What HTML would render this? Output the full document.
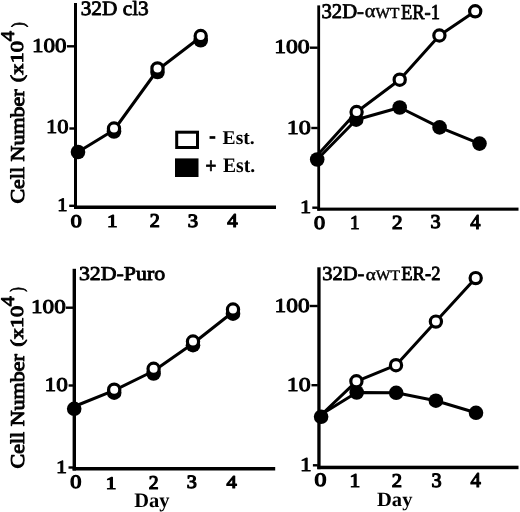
<!DOCTYPE html>
<html><head><meta charset="utf-8"><style>
html,body{margin:0;padding:0;background:#fff;}
svg{display:block;will-change:transform;}
text{font-family:"Liberation Serif", serif;fill:#000;stroke:#000;stroke-linejoin:round;text-rendering:geometricPrecision;}
</style></head><body>
<svg width="520" height="512" viewBox="0 0 520 512">
<rect x="74.00" y="3.00" width="3.00" height="206.00" fill="#000"/>
<rect x="74.00" y="205.50" width="202.00" height="3.50" fill="#000"/>
<rect x="67.00" y="45.10" width="7.50" height="2.40" fill="#000"/>
<rect x="69.40" y="127.30" width="5.10" height="2.40" fill="#000"/>
<rect x="69.20" y="204.60" width="5.30" height="2.40" fill="#000"/>
<polyline points="78,152 114,130 157.5,70 200.7,37" fill="none" stroke="#000" stroke-width="3" stroke-linejoin="round"/>
<circle cx="78" cy="152" r="7.3" fill="#000"/>
<circle cx="114" cy="131.5" r="7.3" fill="#000"/>
<circle cx="157.5" cy="72" r="7.3" fill="#000"/>
<circle cx="200.7" cy="40.3" r="7.3" fill="#000"/>
<circle cx="114" cy="128.5" r="5.6" fill="#fff" stroke="#000" stroke-width="3.2"/>
<circle cx="157.5" cy="68.4" r="5.6" fill="#fff" stroke="#000" stroke-width="3.2"/>
<circle cx="200.7" cy="36" r="5.6" fill="#fff" stroke="#000" stroke-width="3.2"/>
<rect x="317.30" y="5.40" width="2.80" height="205.30" fill="#000"/>
<rect x="317.30" y="207.60" width="201.20" height="3.10" fill="#000"/>
<rect x="309.80" y="46.50" width="8.00" height="2.40" fill="#000"/>
<rect x="311.30" y="126.80" width="6.50" height="2.40" fill="#000"/>
<rect x="312.30" y="206.50" width="5.50" height="2.40" fill="#000"/>
<polyline points="313.5,159.5 356.6,112 399.7,79.7 439.4,35.5 475.2,11.3" fill="none" stroke="#000" stroke-width="3" stroke-linejoin="round"/>
<polyline points="317.2,159.5 356.2,119.7 399.7,107.5 439.6,127.4 479.5,143.6" fill="none" stroke="#000" stroke-width="3" stroke-linejoin="round"/>
<circle cx="317.2" cy="159.5" r="7.3" fill="#000"/>
<circle cx="356.2" cy="119.7" r="7.3" fill="#000"/>
<circle cx="399.7" cy="107.5" r="7.3" fill="#000"/>
<circle cx="439.6" cy="127.4" r="7.3" fill="#000"/>
<circle cx="479.5" cy="143.6" r="7.3" fill="#000"/>
<circle cx="356.6" cy="112" r="5.6" fill="#fff" stroke="#000" stroke-width="3.2"/>
<circle cx="399.7" cy="79.7" r="5.6" fill="#fff" stroke="#000" stroke-width="3.2"/>
<circle cx="439.4" cy="35.5" r="5.6" fill="#fff" stroke="#000" stroke-width="3.2"/>
<circle cx="475.2" cy="11.3" r="5.6" fill="#fff" stroke="#000" stroke-width="3.2"/>
<rect x="72.60" y="268.80" width="3.40" height="201.70" fill="#000"/>
<rect x="72.60" y="467.00" width="202.60" height="3.50" fill="#000"/>
<rect x="65.80" y="306.50" width="7.30" height="2.40" fill="#000"/>
<rect x="68.60" y="384.30" width="4.50" height="2.40" fill="#000"/>
<rect x="68.50" y="466.30" width="4.60" height="2.40" fill="#000"/>
<polyline points="74.2,406.5 114.2,390.3 153.6,371 193,343.5 233,312" fill="none" stroke="#000" stroke-width="3" stroke-linejoin="round"/>
<circle cx="74.2" cy="408.8" r="7.3" fill="#000"/>
<circle cx="114.2" cy="392.7" r="7.3" fill="#000"/>
<circle cx="153.6" cy="373.5" r="7.3" fill="#000"/>
<circle cx="193" cy="345.2" r="7.3" fill="#000"/>
<circle cx="233" cy="313.7" r="7.3" fill="#000"/>
<circle cx="114.2" cy="389.7" r="5.6" fill="#fff" stroke="#000" stroke-width="3.2"/>
<circle cx="153.6" cy="368.8" r="5.6" fill="#fff" stroke="#000" stroke-width="3.2"/>
<circle cx="193" cy="341.5" r="5.6" fill="#fff" stroke="#000" stroke-width="3.2"/>
<circle cx="233" cy="309.5" r="5.6" fill="#fff" stroke="#000" stroke-width="3.2"/>
<rect x="317.30" y="267.30" width="3.30" height="201.90" fill="#000"/>
<rect x="317.30" y="465.70" width="201.20" height="3.50" fill="#000"/>
<rect x="309.80" y="304.80" width="8.00" height="2.40" fill="#000"/>
<rect x="311.50" y="384.00" width="6.30" height="2.40" fill="#000"/>
<rect x="312.90" y="464.10" width="4.90" height="2.40" fill="#000"/>
<polyline points="318.5,417.5 356.4,381.3 396,365.2 435.9,321.6 475.7,278.1" fill="none" stroke="#000" stroke-width="3" stroke-linejoin="round"/>
<polyline points="321.1,414.5 356.7,392.5 396.2,392.8 435.9,400.7 476,412.8" fill="none" stroke="#000" stroke-width="3" stroke-linejoin="round"/>
<circle cx="321.1" cy="416.8" r="7.3" fill="#000"/>
<circle cx="356.7" cy="392.5" r="7.3" fill="#000"/>
<circle cx="396.2" cy="392.8" r="7.3" fill="#000"/>
<circle cx="435.9" cy="400.7" r="7.3" fill="#000"/>
<circle cx="476" cy="412.8" r="7.3" fill="#000"/>
<circle cx="356.4" cy="381.3" r="5.6" fill="#fff" stroke="#000" stroke-width="3.2"/>
<circle cx="396" cy="365.2" r="5.6" fill="#fff" stroke="#000" stroke-width="3.2"/>
<circle cx="435.9" cy="321.6" r="5.6" fill="#fff" stroke="#000" stroke-width="3.2"/>
<circle cx="475.7" cy="278.1" r="5.6" fill="#fff" stroke="#000" stroke-width="3.2"/>
<text id="tl_title" x="80.73" y="14.82" font-size="20.36" textLength="67.98" lengthAdjust="spacingAndGlyphs" style="font-weight:normal;stroke-width:0.85px">32D cl3</text>
<text id="tl_100" x="32.09" y="51.74" font-size="19.85" textLength="34.56" lengthAdjust="spacingAndGlyphs" style="font-weight:normal;stroke-width:0.95px">100</text>
<text id="tl_10" x="45.90" y="133.31" font-size="19.77" textLength="22.54" lengthAdjust="spacingAndGlyphs" style="font-weight:normal;stroke-width:0.95px">10</text>
<text id="tl_1" x="57.33" y="210.90" font-size="19.09" textLength="10.31" lengthAdjust="spacingAndGlyphs" style="font-weight:normal;stroke-width:0.95px">1</text>
<text id="tl_x0" x="70.66" y="226.69" font-size="17.78" textLength="10.97" lengthAdjust="spacingAndGlyphs" style="font-weight:normal;stroke-width:1.2px">0</text>
<text id="tl_x1" x="107.10" y="226.72" font-size="18.14" textLength="10.56" lengthAdjust="spacingAndGlyphs" style="font-weight:normal;stroke-width:1.2px">1</text>
<text id="tl_x2" x="149.78" y="226.72" font-size="19.57" textLength="10.05" lengthAdjust="spacingAndGlyphs" style="font-weight:normal;stroke-width:1.2px">2</text>
<text id="tl_x3" x="187.71" y="226.54" font-size="18.88" textLength="10.33" lengthAdjust="spacingAndGlyphs" style="font-weight:normal;stroke-width:1.2px">3</text>
<text id="tl_x4" x="227.20" y="226.86" font-size="19.54" textLength="10.45" lengthAdjust="spacingAndGlyphs" style="font-weight:normal;stroke-width:1.2px">4</text>
<text id="tr_100" x="274.15" y="52.97" font-size="19.74" textLength="35.60" lengthAdjust="spacingAndGlyphs" style="font-weight:normal;stroke-width:0.95px">100</text>
<text id="tr_10" x="286.68" y="133.61" font-size="19.76" textLength="24.20" lengthAdjust="spacingAndGlyphs" style="font-weight:normal;stroke-width:0.95px">10</text>
<text id="tr_1" x="299.92" y="212.52" font-size="18.72" textLength="11.16" lengthAdjust="spacingAndGlyphs" style="font-weight:normal;stroke-width:0.95px">1</text>
<text id="tr_x0" x="314.09" y="228.92" font-size="18.88" textLength="11.06" lengthAdjust="spacingAndGlyphs" style="font-weight:normal;stroke-width:1.2px">0</text>
<text id="tr_x1" x="349.90" y="229.06" font-size="19.60" textLength="9.59" lengthAdjust="spacingAndGlyphs" style="font-weight:normal;stroke-width:1.2px">1</text>
<text id="tr_x2" x="392.09" y="228.67" font-size="20.02" textLength="10.55" lengthAdjust="spacingAndGlyphs" style="font-weight:normal;stroke-width:1.2px">2</text>
<text id="tr_x3" x="430.64" y="228.10" font-size="19.63" textLength="10.08" lengthAdjust="spacingAndGlyphs" style="font-weight:normal;stroke-width:1.2px">3</text>
<text id="tr_x4" x="470.16" y="229.20" font-size="21.24" textLength="10.21" lengthAdjust="spacingAndGlyphs" style="font-weight:normal;stroke-width:1.2px">4</text>
<text id="bl_title" x="78.92" y="280.26" font-size="19.71" textLength="86.24" lengthAdjust="spacingAndGlyphs" style="font-weight:normal;stroke-width:0.85px">32D-Puro</text>
<text id="bl_100" x="31.06" y="313.00" font-size="19.53" textLength="34.65" lengthAdjust="spacingAndGlyphs" style="font-weight:normal;stroke-width:0.95px">100</text>
<text id="bl_10" x="44.60" y="390.78" font-size="19.65" textLength="23.23" lengthAdjust="spacingAndGlyphs" style="font-weight:normal;stroke-width:0.95px">10</text>
<text id="bl_1" x="56.09" y="472.52" font-size="18.43" textLength="10.98" lengthAdjust="spacingAndGlyphs" style="font-weight:normal;stroke-width:0.95px">1</text>
<text id="bl_x0" x="70.39" y="488.27" font-size="19.00" textLength="11.12" lengthAdjust="spacingAndGlyphs" style="font-weight:normal;stroke-width:1.2px">0</text>
<text id="bl_x1" x="105.74" y="489.05" font-size="17.67" textLength="10.65" lengthAdjust="spacingAndGlyphs" style="font-weight:normal;stroke-width:1.2px">1</text>
<text id="bl_x2" x="148.85" y="489.43" font-size="19.50" textLength="9.83" lengthAdjust="spacingAndGlyphs" style="font-weight:normal;stroke-width:1.2px">2</text>
<text id="bl_x3" x="186.79" y="488.33" font-size="18.83" textLength="10.07" lengthAdjust="spacingAndGlyphs" style="font-weight:normal;stroke-width:1.2px">3</text>
<text id="bl_x4" x="226.51" y="488.34" font-size="18.15" textLength="10.26" lengthAdjust="spacingAndGlyphs" style="font-weight:normal;stroke-width:1.2px">4</text>
<text id="bl_day" x="134.19" y="506.71" font-size="20.47" textLength="35.27" lengthAdjust="spacingAndGlyphs" style="font-weight:bold;stroke-width:0px">Day</text>
<text id="br_100" x="274.48" y="311.74" font-size="19.85" textLength="35.12" lengthAdjust="spacingAndGlyphs" style="font-weight:normal;stroke-width:0.95px">100</text>
<text id="br_10" x="286.78" y="390.99" font-size="19.67" textLength="23.87" lengthAdjust="spacingAndGlyphs" style="font-weight:normal;stroke-width:0.95px">10</text>
<text id="br_1" x="299.97" y="471.47" font-size="19.73" textLength="11.65" lengthAdjust="spacingAndGlyphs" style="font-weight:normal;stroke-width:0.95px">1</text>
<text id="br_x0" x="314.56" y="486.25" font-size="19.10" textLength="11.90" lengthAdjust="spacingAndGlyphs" style="font-weight:normal;stroke-width:1.2px">0</text>
<text id="br_x1" x="349.56" y="486.73" font-size="19.49" textLength="10.73" lengthAdjust="spacingAndGlyphs" style="font-weight:normal;stroke-width:1.2px">1</text>
<text id="br_x2" x="391.88" y="486.72" font-size="19.50" textLength="10.26" lengthAdjust="spacingAndGlyphs" style="font-weight:normal;stroke-width:1.2px">2</text>
<text id="br_x3" x="431.44" y="486.93" font-size="20.38" textLength="10.10" lengthAdjust="spacingAndGlyphs" style="font-weight:normal;stroke-width:1.2px">3</text>
<text id="br_x4" x="470.61" y="487.45" font-size="21.20" textLength="10.35" lengthAdjust="spacingAndGlyphs" style="font-weight:normal;stroke-width:1.2px">4</text>
<text id="br_day" x="377.02" y="506.05" font-size="20.21" textLength="35.41" lengthAdjust="spacingAndGlyphs" style="font-weight:bold;stroke-width:0px">Day</text>
<text id="tl_yl_cn" x="0" y="0" transform="translate(24.15,203.58) rotate(-90)" font-size="19.59" textLength="114.27" lengthAdjust="spacingAndGlyphs" style="font-weight:normal;stroke-width:0.95px">Cell Number</text>
<text id="tl_yl_px" x="0" y="0" transform="translate(22.93,82.20) rotate(-90)" font-size="18.10" textLength="41.17" lengthAdjust="spacingAndGlyphs" style="font-weight:normal;stroke-width:0.95px">(x10</text>
<text id="tl_yl_s4" x="0" y="0" transform="translate(14.45,41.62) rotate(-90)" font-size="19.30" textLength="10.68" lengthAdjust="spacingAndGlyphs" style="font-weight:normal;stroke-width:0.85px">4</text>
<text id="tl_yl_rp" x="0" y="0" transform="translate(23.60,27.31) rotate(-90)" font-size="18.37" textLength="5.03" lengthAdjust="spacingAndGlyphs" style="font-weight:normal;stroke-width:0.85px">)</text>
<text id="bl_yl_cn" x="0" y="0" transform="translate(24.21,468.43) rotate(-90)" font-size="19.60" textLength="114.26" lengthAdjust="spacingAndGlyphs" style="font-weight:normal;stroke-width:0.95px">Cell Number</text>
<text id="bl_yl_px" x="0" y="0" transform="translate(23.34,346.79) rotate(-90)" font-size="18.17" textLength="40.94" lengthAdjust="spacingAndGlyphs" style="font-weight:normal;stroke-width:0.95px">(x10</text>
<text id="bl_yl_s4" x="0" y="0" transform="translate(14.12,306.39) rotate(-90)" font-size="19.28" textLength="10.39" lengthAdjust="spacingAndGlyphs" style="font-weight:normal;stroke-width:0.85px">4</text>
<text id="bl_yl_rp" x="0" y="0" transform="translate(23.00,291.81) rotate(-90)" font-size="18.98" textLength="4.51" lengthAdjust="spacingAndGlyphs" style="font-weight:normal;stroke-width:0.85px">)</text>
<text id="tr_t1" x="321.46" y="18.04" font-size="20.76" textLength="42.53" lengthAdjust="spacingAndGlyphs" style="font-weight:normal;stroke-width:0.85px">32D-</text>
<text id="tr_t2" x="364.65" y="17.36" font-size="18.91" textLength="10.65" lengthAdjust="spacingAndGlyphs" style="font-weight:normal;stroke-width:0.45px">&#945;</text>
<text id="tr_t3" x="375.58" y="17.84" font-size="15.22" textLength="23.90" lengthAdjust="spacingAndGlyphs" style="font-weight:normal;stroke-width:0.45px">WT</text>
<text id="tr_t4" x="400.97" y="18.68" font-size="21.30" textLength="39.00" lengthAdjust="spacingAndGlyphs" style="font-weight:normal;stroke-width:0.85px">ER-1</text>
<text id="br_t1" x="322.22" y="280.24" font-size="19.83" textLength="42.22" lengthAdjust="spacingAndGlyphs" style="font-weight:normal;stroke-width:0.85px">32D-</text>
<text id="br_t2" x="365.78" y="279.98" font-size="16.96" textLength="10.07" lengthAdjust="spacingAndGlyphs" style="font-weight:normal;stroke-width:0.45px">&#945;</text>
<text id="br_t3" x="375.80" y="279.52" font-size="14.69" textLength="24.22" lengthAdjust="spacingAndGlyphs" style="font-weight:normal;stroke-width:0.45px">WT</text>
<text id="br_t4" x="401.31" y="280.48" font-size="19.99" textLength="39.11" lengthAdjust="spacingAndGlyphs" style="font-weight:normal;stroke-width:0.85px">ER-2</text>
<text id="lg_m1" x="208.67" y="145.28" font-size="31.96" textLength="7.38" lengthAdjust="spacingAndGlyphs" style="font-weight:bold;stroke-width:0px">-</text>
<text id="lg_m2" x="222.63" y="143.63" font-size="19.48" textLength="32.07" lengthAdjust="spacingAndGlyphs" style="font-weight:bold;stroke-width:0px">Est.</text>
<text id="lg_p1" x="205.17" y="172.53" font-size="22.13" textLength="11.32" lengthAdjust="spacingAndGlyphs" style="font-weight:bold;stroke-width:0.7px">+</text>
<text id="lg_p2" x="223.06" y="171.73" font-size="20.55" textLength="32.06" lengthAdjust="spacingAndGlyphs" style="font-weight:bold;stroke-width:0px">Est.</text>
<rect x="176.70" y="132.20" width="20.80" height="15.30" fill="#fff" stroke="#000" stroke-width="3"/>
<rect x="175.00" y="158.40" width="23.50" height="18.60" fill="#000"/>
</svg>
</body></html>
